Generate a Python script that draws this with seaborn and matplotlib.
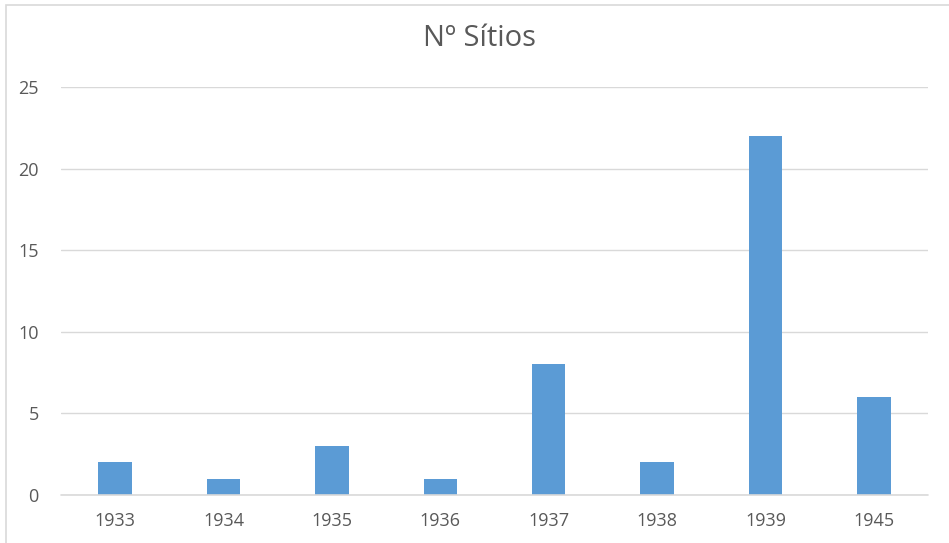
import numpy as np
import pandas as pd
import matplotlib.pyplot as plt
import seaborn as sns
from matplotlib.patches import Rectangle

# Dados do gráfico
anos = ["1933", "1934", "1935", "1936", "1937", "1938", "1939", "1945"]
sitios = [2, 1, 3, 1, 8, 2, 22, 6]

df = pd.DataFrame({"ano": anos, "sitios": sitios})

sns.set_style("white")
plt.rcParams['font.family'] = ['Open Sans', 'DejaVu Sans']

fig = plt.figure(figsize=(9.49, 5.43), dpi=100)
ax = fig.add_axes([61 / 949, 1 - 495 / 543, 867 / 949, 408 / 543])

sns.barplot(x="ano", y="sitios", data=df, color="#5B9BD5", saturation=1,
            width=0.31, linewidth=0, ax=ax, zorder=3)

ax.set_ylim(0, 25)
ax.set_yticks([0, 5, 10, 15, 20, 25])
ax.set_xlim(-0.5, len(anos) - 0.5)
ax.yaxis.grid(True, color="#D9D9D9", linewidth=1.0, zorder=0)
ax.xaxis.grid(False)
sns.despine(ax=ax, left=True, right=True, top=True, bottom=True)
ax.axhline(0, color="#D9D9D9", linewidth=1.2, zorder=4, clip_on=False)

ax.set_xlabel("")
ax.set_ylabel("")
ax.tick_params(axis="both", length=0, labelsize=13, colors="#595959")
ax.tick_params(axis="y", pad=16)
ax.tick_params(axis="x", pad=12)

# Título
fig.text(479 / 949, 1 - 38 / 543, "Nº Sítios", ha="center", va="center",
         fontsize=21, color="#595959")

# Borda da área do gráfico
fig.patches.append(Rectangle((6 / 949, -0.1), 1.2, 1 - 5 / 543 + 0.1,
                             transform=fig.transFigure, fill=False,
                             edgecolor="#D9D9D9", linewidth=1.2))

fig.savefig("out.png", dpi=100)
